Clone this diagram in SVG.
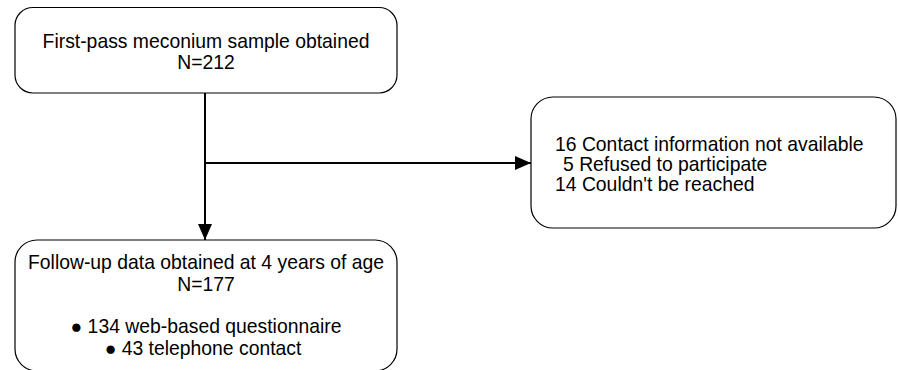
<svg xmlns="http://www.w3.org/2000/svg" width="898" height="370" viewBox="0 0 898 370">
<defs>
<style>
.box{fill:#fff;stroke:#000;stroke-width:1.2}
.t{font-family:"Liberation Sans",Arial,sans-serif;font-size:19.35px;fill:#000}
.c{text-anchor:middle}
.ln{stroke:#000;stroke-width:2;fill:none}
</style>
<marker id="ah2" viewBox="0 0 10 10" refX="10" refY="5" markerWidth="16" markerHeight="14" markerUnits="userSpaceOnUse" orient="auto" preserveAspectRatio="none">
<path d="M0,0 L10,5 L0,10 z" fill="#000"/>
</marker>
</defs>
<rect width="898" height="370" fill="#fff"/>
<g id="connectors">
<path class="ln" d="M205,93 V240" marker-end="url(#ah2)"/>
<path class="ln" d="M205,163 H531" marker-end="url(#ah2)"/>
</g>
<g id="node-meconium">
<rect class="box" x="15" y="7.5" width="382" height="85.5" rx="18"/>
<text class="t c" x="206" y="48">First-pass meconium sample obtained</text>
<text class="t c" x="206" y="69">N=212</text>
</g>
<g id="node-excluded">
<rect class="box" x="531" y="97" width="365" height="131" rx="22"/>
<text class="t" x="555" y="151">16 Contact information not available</text>
<text class="t" x="563" y="171">5 Refused to participate</text>
<text class="t" x="555" y="191">14 Couldn't be reached</text>
</g>
<g id="node-followup">
<rect class="box" x="15" y="240" width="382" height="131" rx="22"/>
<text class="t c" x="206" y="269">Follow-up data obtained at 4 years of age</text>
<text class="t c" x="206" y="291">N=177</text>
<text class="t c" x="206" y="333">● 134 web-based questionnaire</text>
<text class="t c" x="203" y="355">● 43 telephone contact</text>
</g>
</svg>
